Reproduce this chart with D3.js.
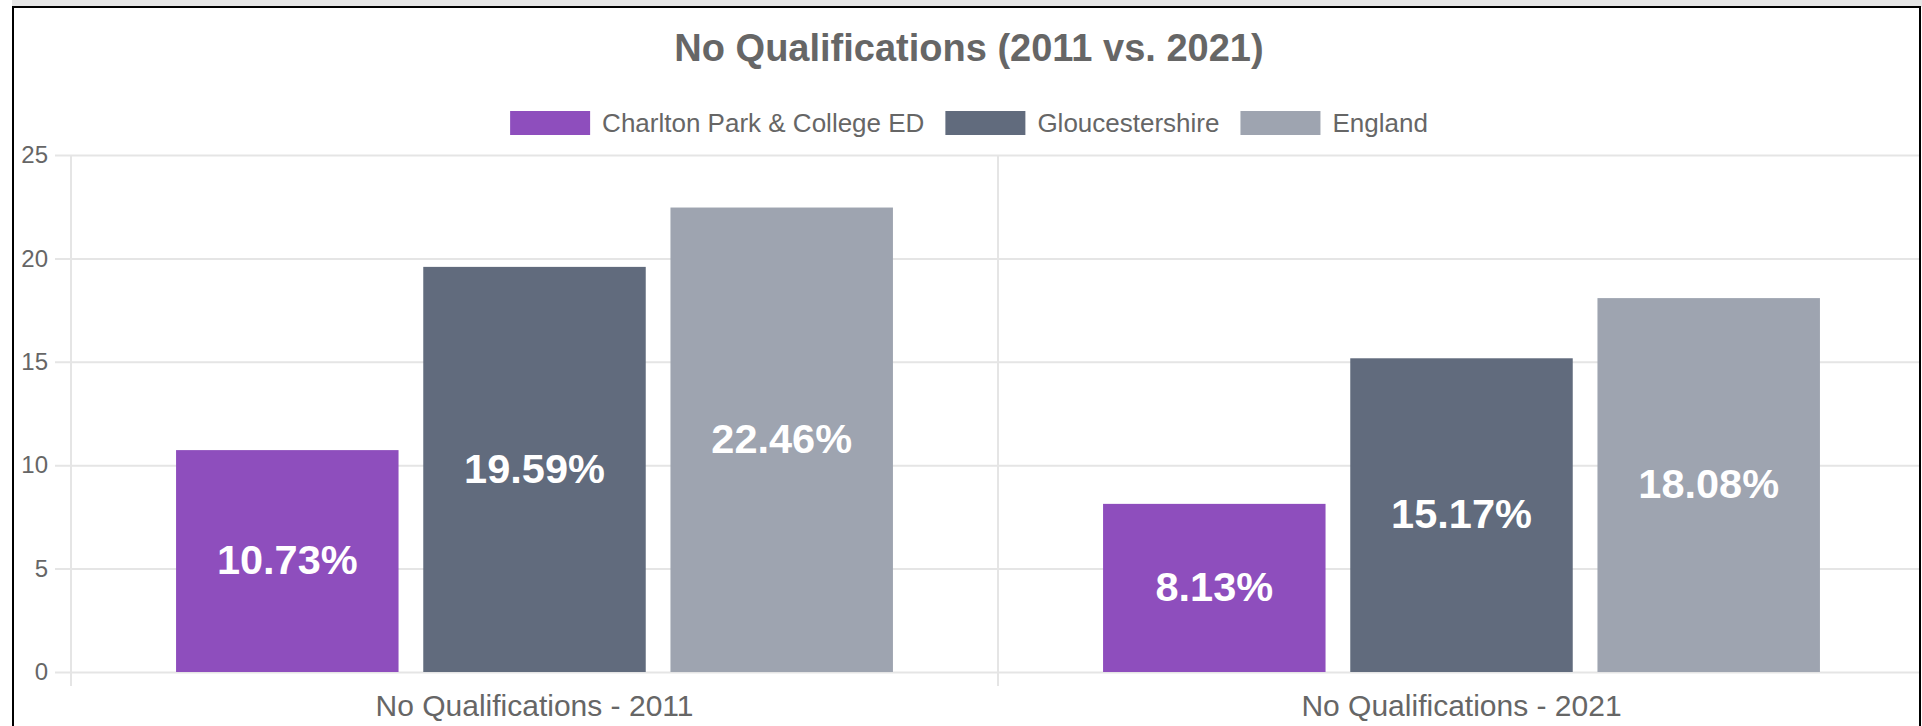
<!DOCTYPE html>
<html>
<head>
<meta charset="utf-8">
<script src="https://cdn.jsdelivr.net/npm/d3@7"></script>
<style>
  body { margin: 0; background: #fff; }
  svg { display: block; font-family: "Liberation Sans", Arial, Helvetica, sans-serif; }
</style>
</head>
<body>
<svg id="chart"></svg>
<script>
// data
var categories = ["No Qualifications - 2011", "No Qualifications - 2021"];
var seriesNames = ["Charlton Park & College ED", "Gloucestershire", "England"];
var seriesColors = ["#8e4ebd", "#616b7d", "#9ea4b0"];
var charlton = [10.73, 8.13];
var gloucs = [19.59, 15.17];
var england = [22.46, 18.08];
var yTicks = [0, 5, 10, 15, 20, 25];
var title = "No Qualifications (2011 vs. 2021)";

var seriesValues = [charlton, gloucs, england];

var width = 1922, height = 726;
var svg = d3.select("#chart")
  .attr("width", width)
  .attr("height", height);

// plot area (don't use "top" as a global name, it's window.top)
// right edge runs a bit past the frame, like the original canvas
var plotLeft = 71, plotRight = 1925, plotTop = 155, plotBottom = 672;

var x0 = d3.scaleBand()
  .domain(categories)
  .range([plotLeft, plotRight])
  .padding(0);

var x1 = d3.scaleBand()
  .domain(seriesNames)
  .range([x0.bandwidth() * 0.1, x0.bandwidth() * 0.9])
  .paddingInner(0.1)
  .paddingOuter(0.05);

var y = d3.scaleLinear()
  .domain([0, 25])
  .range([plotBottom, plotTop]);

// horizontal grid + y ticks
var yAxis = d3.axisLeft(y)
  .tickValues(yTicks)
  .tickSize(0)
  .tickFormat(d3.format("d"));

var gy = svg.append("g")
  .attr("transform", "translate(" + (plotLeft - 16) + ",0)")
  .call(yAxis);
gy.select(".domain").remove();
gy.selectAll(".tick line")
  .attr("x1", 0)
  .attr("x2", plotRight - plotLeft + 16)
  .attr("stroke", "#e5e5e5")
  .attr("stroke-width", 2);
gy.selectAll(".tick text")
  .attr("x", -7)
  .attr("fill", "#666")
  .style("font-size", "24px")
  .style("font-family", "Liberation Sans, Arial, sans-serif");

// vertical grid lines between categories
var vLines = [plotLeft].concat(categories.map(function(c) { return x0(c) + x0.bandwidth(); }));
svg.append("g")
  .selectAll("line")
  .data(vLines)
  .enter().append("line")
  .attr("x1", d => d).attr("x2", d => d)
  .attr("y1", plotTop).attr("y2", plotBottom + 14)
  .attr("stroke", "#e5e5e5")
  .attr("stroke-width", 2);

// x labels
svg.append("g")
  .selectAll("text")
  .data(categories)
  .enter().append("text")
  .attr("x", d => x0(d) + x0.bandwidth() / 2)
  .attr("y", 716)
  .attr("text-anchor", "middle")
  .attr("fill", "#666")
  .style("font-size", "30px")
  .text(d => d);

// bars
var rows = [];
categories.forEach(function(c, i) {
  seriesNames.forEach(function(s, j) {
    rows.push({ cat: c, series: s, value: seriesValues[j][i], color: seriesColors[j] });
  });
});

var bars = svg.append("g")
  .selectAll("g")
  .data(rows)
  .enter().append("g");

bars.append("rect")
  .attr("x", d => x0(d.cat) + x1(d.series))
  .attr("y", d => y(d.value))
  .attr("width", x1.bandwidth())
  .attr("height", d => y(0) - y(d.value))
  .attr("fill", d => d.color);

bars.append("text")
  .attr("x", d => x0(d.cat) + x1(d.series) + x1.bandwidth() / 2)
  .attr("y", d => (y(d.value) + y(0)) / 2)
  .attr("dy", "0.32em")
  .attr("text-anchor", "middle")
  .attr("fill", "#fff")
  .style("font-size", "41.5px")
  .style("font-weight", "bold")
  .text(d => d.value.toFixed(2) + "%");

// page frame (drawn on top so the canvas overflow is hidden)
svg.append("rect")
  .attr("x", 1921).attr("y", 0)
  .attr("width", 1).attr("height", height)
  .attr("fill", "#fff");
svg.append("rect")
  .attr("x", 12).attr("y", 0)
  .attr("width", width - 12).attr("height", 7)
  .attr("fill", "#e6e6e6");
svg.append("path")
  .attr("d", "M13,726 L13,7 L1920,7 L1920,726")
  .attr("fill", "none")
  .attr("stroke", "#000")
  .attr("stroke-width", 2);

// title
svg.append("text")
  .attr("x", 969)
  .attr("y", 61)
  .attr("text-anchor", "middle")
  .attr("fill", "#666")
  .style("font-size", "38px")
  .style("font-weight", "bold")
  .text(title);

// legend, centered
var legend = svg.append("g");
var items = legend.selectAll("g")
  .data(seriesNames)
  .enter().append("g");
items.append("rect")
  .attr("width", 80)
  .attr("height", 24)
  .attr("y", 111)
  .attr("fill", (d, i) => seriesColors[i]);
items.append("text")
  .attr("x", 92)
  .attr("y", 132)
  .attr("fill", "#666")
  .style("font-size", "26px")
  .text(d => d);

var pos = 0;
var offsets = [];
items.each(function() {
  offsets.push(pos);
  var tw = d3.select(this).select("text").node().getComputedTextLength();
  pos += 92 + tw + 21;
});
var total = pos - 21;
var startX = 969 - total / 2;
items.attr("transform", (d, i) => "translate(" + (startX + offsets[i]) + ",0)");
</script>
</body>
</html>
